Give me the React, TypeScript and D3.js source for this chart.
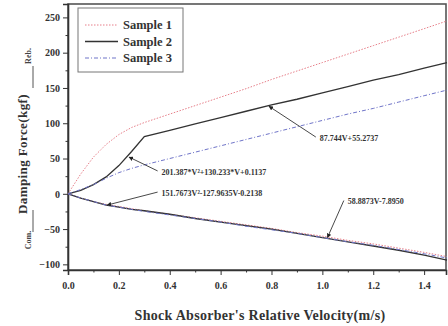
import * as d3 from "d3";
import React, { useEffect, useRef } from "react";

// shock absorber velocity (m/s)
const velocity = [0, 0.05, 0.1, 0.15, 0.2, 0.25, 0.3, 0.4, 0.5, 0.6, 0.7, 0.8, 0.9, 1.0, 1.1, 1.2, 1.3, 1.4, 1.49];

// rebound branch (kgf)
const sample1Reb = [0, 28, 52, 70, 84, 94, 101, 113, 125, 137, 149, 162, 174, 186, 198, 210, 222, 234, 245];
const sample2Reb = [0, 5, 13, 24, 40, 60, 81, 90, 99, 108, 117, 126, 134, 143, 152, 161, 169, 178, 186];
const sample3Reb = [0, 6, 13, 22, 30, 36, 41, 50, 59, 68, 77, 86, 95, 104, 113, 121, 130, 139, 147];

// compression branch (kgf)
const sample1Com = [0, -6, -11, -15, -18, -21, -24, -29, -34, -39, -44, -49, -55, -60, -66, -71, -77, -83, -89];
const sample2Com = [0, -6, -11, -16, -19, -22, -24, -29, -35, -40, -45, -50, -56, -62, -68, -74, -80, -87, -94];
const sample3Com = [0, -6, -11, -16, -19, -22, -25, -30, -35, -40, -46, -51, -56, -62, -68, -73, -79, -85, -91];

const seriesNames = ["Sample 1", "Sample 2", "Sample 3"];
const xTicks = [0, 0.2, 0.4, 0.6, 0.8, 1.0, 1.2, 1.4];
const yTicks = [-100, -50, 0, 50, 100, 150, 200, 250];

// fitted curve labels: arrow tip and text start in data units
const fitLabels = ["87.744V+55.2737", "201.387*V²+130.233*V+0.1137", "151.7673V²-127.9635V-0.2138", "58.8873V-7.8950"];
const fitTips: [number, number][] = [[0.79, 124], [0.24, 52], [0.154, -16], [1.02, -62]];
const fitTextAt: [number, number][] = [[0.99, 79], [0.368, 31], [0.368, 1], [1.1, -11]];

const width = 448;
const height = 326;
const marginLeft = 68;
const marginRight = 2;
const marginTop = 4;
const marginBottom = 56;

const font = "'Liberation Serif', 'Times New Roman', serif";

export default function App() {
  const svgRef = useRef<SVGSVGElement>(null);

  useEffect(() => {
    if (!svgRef.current) return;
    const svg = d3.select(svgRef.current);
    svg.selectAll("*").remove();

    const x = d3.scaleLinear([0, 1.486], [marginLeft, width - marginRight]);
    const y = d3.scaleLinear([-108, 269], [height - marginBottom, marginTop]);

    svg.append("rect").attr("width", width).attr("height", height).attr("fill", "#fff");

    const defs = svg.append("defs");
    defs
      .append("marker")
      .attr("id", "arr")
      .attr("viewBox", "0 0 10 10")
      .attr("refX", 9)
      .attr("refY", 5)
      .attr("markerWidth", 5)
      .attr("markerHeight", 5)
      .attr("orient", "auto")
      .append("path")
      .attr("d", "M0,0L10,5L0,10z")
      .attr("fill", "#222");

    // frame
    svg
      .append("rect")
      .attr("x", marginLeft)
      .attr("y", marginTop)
      .attr("width", width - marginLeft - marginRight)
      .attr("height", height - marginTop - marginBottom)
      .attr("fill", "none")
      .attr("stroke", "#555")
      .attr("stroke-width", 1.6);

    // x axis
    const xAxis = d3
      .axisBottom(x)
      .tickValues(xTicks)
      .tickSize(5)
      .tickFormat((d) => d3.format(".1f")(d as number));
    svg
      .append("g")
      .attr("transform", `translate(0,${height - marginBottom})`)
      .call(xAxis)
      .call((g) => g.select(".domain").attr("stroke", "#333").attr("stroke-width", 1.6))
      .call((g) => g.selectAll(".tick line").attr("stroke", "#333"))
      .call((g) =>
        g
          .selectAll(".tick text")
          .attr("font-family", font)
          .attr("font-weight", "bold")
          .attr("font-size", 10)
          .attr("fill", "#333")
          .attr("dy", "1.1em")
      );
    svg
      .append("g")
      .attr("transform", `translate(0,${height - marginBottom})`)
      .call(d3.axisBottom(x).tickValues(d3.range(0.1, 1.5, 0.2)).tickSize(2.5).tickFormat(() => ""))
      .call((g) => g.select(".domain").remove())
      .call((g) => g.selectAll(".tick line").attr("stroke", "#333"));

    // y axis
    svg
      .append("g")
      .attr("transform", `translate(${marginLeft},0)`)
      .call(d3.axisLeft(y).tickValues(yTicks).tickSize(5))
      .call((g) => g.select(".domain").attr("stroke", "#333").attr("stroke-width", 1.6))
      .call((g) => g.selectAll(".tick line").attr("stroke", "#333"))
      .call((g) =>
        g
          .selectAll(".tick text")
          .attr("font-family", font)
          .attr("font-weight", "bold")
          .attr("font-size", 10)
          .attr("fill", "#333")
      );
    svg
      .append("g")
      .attr("transform", `translate(${marginLeft},0)`)
      .call(d3.axisLeft(y).tickValues(d3.range(-75, 270, 50)).tickSize(2.5).tickFormat(() => ""))
      .call((g) => g.select(".domain").remove())
      .call((g) => g.selectAll(".tick line").attr("stroke", "#333"));

    // axis titles
    svg
      .append("text")
      .attr("x", (marginLeft + width - marginRight) / 2 + 3)
      .attr("y", 320)
      .attr("text-anchor", "middle")
      .attr("font-family", font)
      .attr("font-weight", "bold")
      .attr("font-size", 14)
      .attr("letter-spacing", 0.3)
      .attr("fill", "#333")
      .text("Shock Absorber's Relative Velocity(m/s)");

    const yTitle = svg.append("g").attr("transform", "translate(27,0) rotate(-90)");
    yTitle
      .append("text")
      .attr("x", -154)
      .attr("y", 0)
      .attr("text-anchor", "middle")
      .attr("font-family", font)
      .attr("font-weight", "bold")
      .attr("font-size", 13)
      .attr("letter-spacing", 0.4)
      .attr("fill", "#333")
      .text("Damping Force(kgf)");
    yTitle
      .append("text")
      .attr("x", -240)
      .attr("y", 4)
      .attr("text-anchor", "middle")
      .attr("font-family", font)
      .attr("font-weight", "bold")
      .attr("font-size", 8)
      .attr("fill", "#444")
      .text("Com.");
    yTitle
      .append("line")
      .attr("x1", -232)
      .attr("x2", -210)
      .attr("y1", 6)
      .attr("y2", 6)
      .attr("stroke", "#555");
    yTitle
      .append("text")
      .attr("x", -56)
      .attr("y", 4)
      .attr("text-anchor", "middle")
      .attr("font-family", font)
      .attr("font-weight", "bold")
      .attr("font-size", 8)
      .attr("fill", "#444")
      .text("Reb.");
    yTitle
      .append("line")
      .attr("x1", -88)
      .attr("x2", -66)
      .attr("y1", 6)
      .attr("y2", 6)
      .attr("stroke", "#555");

    // curves
    const line = d3
      .line<number>()
      .x((_, i) => x(velocity[i]))
      .y((d) => y(d));
    const styles = [
      { color: "#e77f8a", dash: "1.5,1.5", w: 1 },
      { color: "#333", dash: null, w: 1.3 },
      { color: "#6f74c8", dash: "4,2,1,2", w: 1 },
    ];
    const curves = [
      [sample1Reb, sample1Com],
      [sample2Reb, sample2Com],
      [sample3Reb, sample3Com],
    ];
    curves.forEach((pair, s) => {
      pair.forEach((vals) => {
        svg
          .append("path")
          .attr("d", line(vals))
          .attr("fill", "none")
          .attr("stroke", styles[s].color)
          .attr("stroke-width", styles[s].w)
          .attr("stroke-dasharray", styles[s].dash);
      });
    });

    // fit annotations
    fitLabels.forEach((label, i) => {
      const [tv, tf] = fitTips[i];
      const [lv, lf] = fitTextAt[i];
      svg
        .append("line")
        .attr("x1", x(lv) - 4)
        .attr("y1", y(lf) - 1)
        .attr("x2", x(tv))
        .attr("y2", y(tf))
        .attr("stroke", "#333")
        .attr("stroke-width", 0.9)
        .attr("marker-end", "url(#arr)");
      svg
        .append("text")
        .attr("x", x(lv))
        .attr("y", y(lf))
        .attr("dy", "0.35em")
        .attr("font-family", font)
        .attr("font-weight", "bold")
        .attr("font-size", 8)
        .attr("fill", "#333")
        .text(label);
    });

    // legend
    const legend = svg.append("g");
    legend
      .append("rect")
      .attr("x", 78)
      .attr("y", 8)
      .attr("width", 105)
      .attr("height", 64)
      .attr("fill", "#fff")
      .attr("stroke", "#777")
      .attr("stroke-width", 1);
    seriesNames.forEach((name, i) => {
      const ly = 25 + i * 16.5;
      legend
        .append("line")
        .attr("x1", 85)
        .attr("x2", 118)
        .attr("y1", ly)
        .attr("y2", ly)
        .attr("stroke", styles[i].color)
        .attr("stroke-width", styles[i].w)
        .attr("stroke-dasharray", styles[i].dash);
      legend
        .append("text")
        .attr("x", 123)
        .attr("y", ly)
        .attr("dy", "0.35em")
        .attr("font-family", font)
        .attr("font-weight", "bold")
        .attr("font-size", 12.5)
        .attr("fill", "#333")
        .text(name);
    });
  }, []);

  return (
    <svg
      ref={svgRef}
      width={width}
      height={height}
      style={{ position: "absolute", left: 0, top: 0 }}
    />
  );
}
